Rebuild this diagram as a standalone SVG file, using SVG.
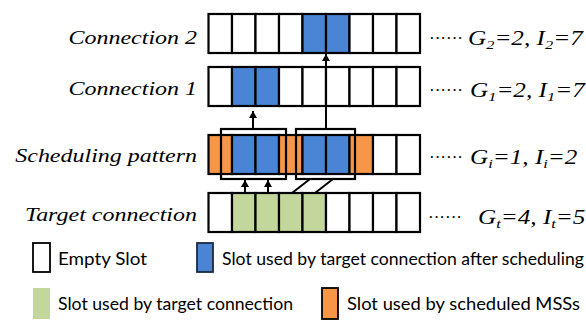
<svg xmlns="http://www.w3.org/2000/svg" width="586" height="322" viewBox="0 0 586 322">
<style>
.s{stroke:#000;stroke-width:2.2}
.w{fill:#fff}
.b{fill:#4a84d4}
.o{fill:#f79646}
.g{fill:#c3d69b}
.hl{fill:none;stroke:#000;stroke-width:2.2}
.lab{font-family:"Liberation Serif",serif;font-style:italic;font-size:19.5px;text-anchor:end;fill:#000}
.val{font-family:"Liberation Serif",serif;font-style:italic;font-size:20px;fill:#000}
.dots{font-family:"Liberation Serif",serif;font-size:17px;fill:#000}
.leg{font-family:"Lato","Open Sans",sans-serif;font-size:17px;fill:#000}
.c{stroke:#000;stroke-width:2;fill:none}
</style>
<defs>
<marker id="ah" markerUnits="userSpaceOnUse" markerWidth="9" markerHeight="9" refX="7" refY="4" orient="auto">
<path d="M0,0 L7,4 L0,8 Z" fill="#000"/>
</marker>
</defs>

<g id="connection2">
<text class="lab" transform="translate(197,44) scale(1.23,1)">Connection 2</text>
<g class="s">
<rect class="w" x="208.5" y="14" width="23.5" height="39"/>
<rect class="w" x="232" y="14" width="23.5" height="39"/>
<rect class="w" x="255.5" y="14" width="23.5" height="39"/>
<rect class="w" x="279" y="14" width="23.5" height="39"/>
<rect class="b" x="302.5" y="14" width="23.5" height="39"/>
<rect class="b" x="326" y="14" width="23.5" height="39"/>
<rect class="w" x="349.5" y="14" width="23.5" height="39"/>
<rect class="w" x="373" y="14" width="23.5" height="39"/>
<rect class="w" x="396.5" y="14" width="23.5" height="39"/>
</g>
<text class="dots" x="429" y="44">······</text>
<text class="val" transform="translate(468,45) scale(1.26,1)">G<tspan font-size="13" dy="4">2</tspan><tspan dy="-4">=2, I</tspan><tspan font-size="13" dy="4">2</tspan><tspan dy="-4">=7</tspan></text>
</g>

<g id="connection1">
<text class="lab" transform="translate(197,95) scale(1.23,1)">Connection 1</text>
<g class="s">
<rect class="w" x="208.5" y="67" width="23.5" height="39"/>
<rect class="b" x="232" y="67" width="23.5" height="39"/>
<rect class="b" x="255.5" y="67" width="23.5" height="39"/>
<rect class="w" x="279" y="67" width="23.5" height="39"/>
<rect class="w" x="302.5" y="67" width="23.5" height="39"/>
<rect class="w" x="326" y="67" width="23.5" height="39"/>
<rect class="w" x="349.5" y="67" width="23.5" height="39"/>
<rect class="w" x="373" y="67" width="23.5" height="39"/>
<rect class="w" x="396.5" y="67" width="23.5" height="39"/>
</g>
<text class="dots" x="429" y="96">······</text>
<text class="val" transform="translate(470,97) scale(1.26,1)">G<tspan font-size="13" dy="4">1</tspan><tspan dy="-4">=2, I</tspan><tspan font-size="13" dy="4">1</tspan><tspan dy="-4">=7</tspan></text>
</g>

<g id="scheduling-pattern">
<text class="lab" transform="translate(197,162) scale(1.23,1)">Scheduling pattern</text>
<g class="s">
<rect class="o" x="208.5" y="135" width="23.5" height="39"/>
<rect class="b" x="232" y="135" width="23.5" height="39"/>
<rect class="b" x="255.5" y="135" width="23.5" height="39"/>
<rect class="o" x="279" y="135" width="23.5" height="39"/>
<rect class="b" x="302.5" y="135" width="23.5" height="39"/>
<rect class="b" x="326" y="135" width="23.5" height="39"/>
<rect class="o" x="349.5" y="135" width="23.5" height="39"/>
<rect class="w" x="373" y="135" width="23.5" height="39"/>
<rect class="w" x="396.5" y="135" width="23.5" height="39"/>
</g>
<rect class="hl" x="221" y="129" width="65" height="50"/>
<rect class="hl" x="296" y="129" width="59" height="50"/>
<text class="dots" x="429" y="163">······</text>
<text class="val" transform="translate(470,164) scale(1.26,1)">G<tspan font-size="13" dy="4">i</tspan><tspan dy="-4">=1, I</tspan><tspan font-size="13" dy="4">i</tspan><tspan dy="-4">=2</tspan></text>
</g>

<g id="target-connection">
<text class="lab" transform="translate(197,221) scale(1.23,1)">Target connection</text>
<g class="s">
<rect class="w" x="208.5" y="193" width="23.5" height="39"/>
<rect class="g" x="232" y="193" width="23.5" height="39"/>
<rect class="g" x="255.5" y="193" width="23.5" height="39"/>
<rect class="g" x="279" y="193" width="23.5" height="39"/>
<rect class="g" x="302.5" y="193" width="23.5" height="39"/>
<rect class="w" x="326" y="193" width="23.5" height="39"/>
<rect class="w" x="349.5" y="193" width="23.5" height="39"/>
<rect class="w" x="373" y="193" width="23.5" height="39"/>
<rect class="w" x="396.5" y="193" width="23.5" height="39"/>
</g>
<text class="dots" x="428" y="223">······</text>
<text class="val" transform="translate(478,224) scale(1.26,1)">G<tspan font-size="13" dy="4">t</tspan><tspan dy="-4">=4, I</tspan><tspan font-size="13" dy="4">t</tspan><tspan dy="-4">=5</tspan></text>
</g>

<g id="connectors">
<line class="c" x1="253" y1="129" x2="253" y2="111" marker-end="url(#ah)"/>
<line class="c" x1="326" y1="129" x2="326" y2="54" marker-end="url(#ah)"/>
<line class="c" x1="245" y1="193" x2="245" y2="180" marker-end="url(#ah)"/>
<line class="c" x1="268" y1="193" x2="268" y2="180" marker-end="url(#ah)"/>
<line class="c" x1="292" y1="193" x2="310" y2="179"/>
<line class="c" x1="315" y1="193" x2="333" y2="179"/>
</g>

<g id="legend">
<rect class="w" x="33" y="243" width="17" height="29" stroke="#000" stroke-width="1.8"/>
<text class="leg" x="58" y="265" textLength="89" lengthAdjust="spacingAndGlyphs">Empty Slot</text>
<rect class="b" x="197" y="243" width="16" height="29" stroke="#1a2a40" stroke-width="1.8"/>
<text class="leg" x="222" y="265" textLength="362" lengthAdjust="spacingAndGlyphs">Slot used by target connection after scheduling</text>
<rect class="g" x="33" y="288" width="17" height="31"/>
<text class="leg" x="58" y="310" textLength="235" lengthAdjust="spacingAndGlyphs">Slot used by target connection</text>
<rect class="o" x="322" y="288" width="16" height="31" stroke="#000" stroke-width="1.8"/>
<text class="leg" x="347" y="310" textLength="233" lengthAdjust="spacingAndGlyphs">Slot used by scheduled MSSs</text>
</g>
</svg>
